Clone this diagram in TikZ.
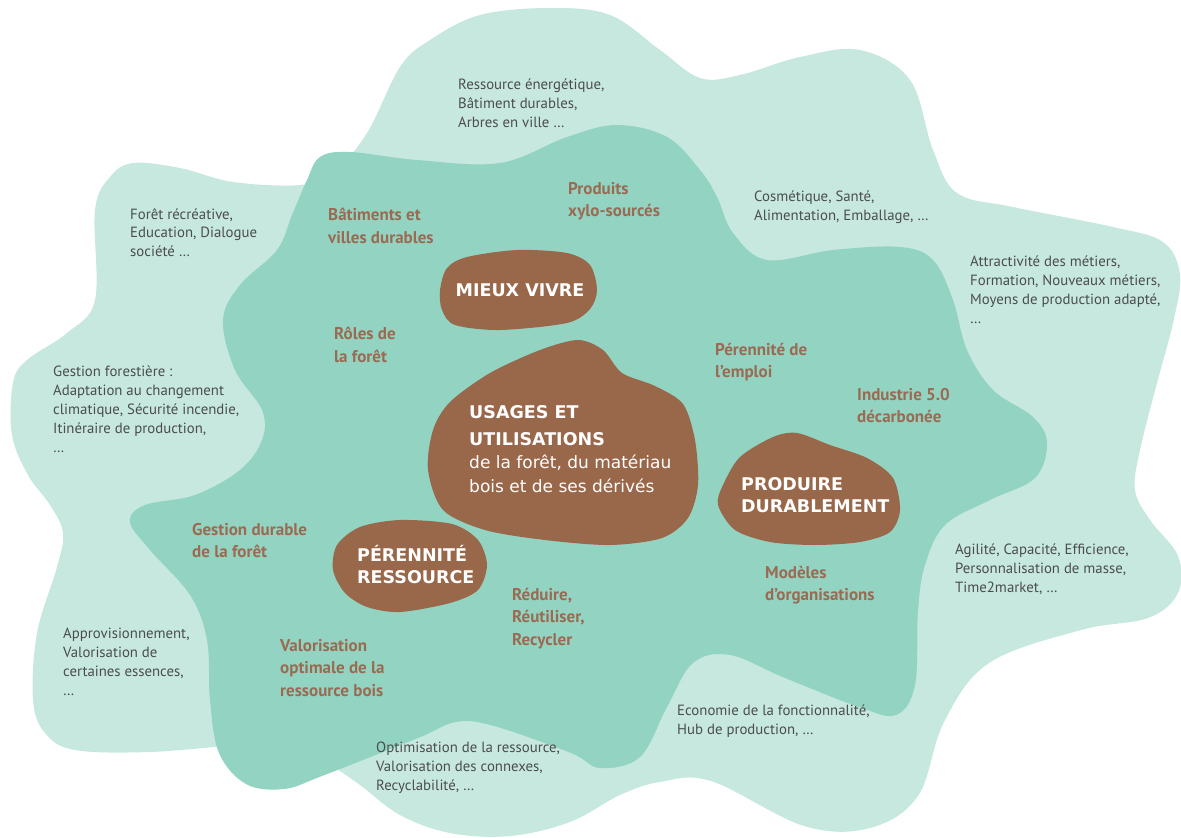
\documentclass[tikz,border=0pt]{standalone}
\usepackage{fontspec}
\setmainfont{PT Sans}
\newfontfamily\blobfont{DejaVu Sans}
\definecolor{paleleaf}{HTML}{C7E8DE}
\definecolor{midleaf}{HTML}{93D3C2}
\definecolor{bark}{HTML}{99684B}
\definecolor{barktext}{HTML}{9A6B52}
\definecolor{inkgray}{HTML}{4B4D4D}
\begin{document}
\begin{tikzpicture}
  [x=1pt, y=-1pt,
    idea/.style={
      font=\fontsize{14.8}{18.8}\selectfont,
      text=inkgray, align=left,
      anchor=north west, inner sep=0pt
    },
    theme/.style={
      font=\fontsize{17}{22.5}\selectfont\bfseries,
      text=barktext, align=left,
      anchor=north west, inner sep=0pt
    },
    pole/.style={
      font=\blobfont\bfseries\fontsize{17.5}{22}\selectfont,
      text=white, align=left, inner sep=0pt
    },
    polesub/.style={
      font=\blobfont\fontsize{17}{24}\selectfont,
      text=white, align=left,
      anchor=north west, inner sep=0pt
    }
  ]
  \useasboundingbox (0,0) rectangle (1181,838);
  % outer zone
  \fill[paleleaf] plot[smooth cycle, tension=0.6] coordinates {
    (430,40) (480,15) (550,8) (610,15) (660,50) (700,78) (740,75)
    (800,57) (860,50) (910,80) (933,150) (957,193) (1013,207)
    (1113,227) (1163,242) (1180,275) (1173,323) (1157,383) (1140,450)
    (1135,490) (1150,520) (1178,556) (1178,593) (1148,618) (1081,630)
    (989,663) (944,722) (918,796) (870,828) (804,826) (711,781)
    (660,782) (620,795) (570,822) (510,836) (450,833) (400,815)
    (360,785) (330,765) (300,752) (250,745) (150,752) (75,750)
    (45,733) (33,700) (37,633) (57,567) (63,533) (50,505) (28,475)
    (12,435) (13,383) (27,360) (67,333) (95,300) (95,210) (110,177)
    (133,163) (180,168) (233,182) (300,185) (333,173) (367,133)
    (400,67)};
  % inner zone
  \fill[midleaf] plot[smooth cycle, tension=0.6] coordinates {
    (320,157) (350,152) (417,160) (500,163) (567,137) (617,125)
    (667,137) (700,170) (717,197) (733,233) (767,260) (833,250)
    (900,247) (933,260) (953,300) (967,350) (993,390) (1033,417)
    (1047,443) (1035,478) (990,500) (945,525) (925,565) (918,611)
    (915,685) (896,715) (859,707) (785,678) (730,655) (693,663)
    (667,707) (640,757) (600,768) (571,753) (494,726) (456,722)
    (418,738) (322,776) (284,789) (246,784) (219,753) (210,700)
    (207,640) (190,595) (150,550) (130,522) (145,505) (195,495)
    (240,470) (262,440) (262,410) (235,370) (223,320) (240,285)
    (277,250) (292,215) (307,180)};
  % brown poles
  \fill[bark] plot[smooth cycle] coordinates {
    (440,290) (447,268) (467,257) (517,250) (567,253) (590,265)
    (597,290) (590,309) (567,323) (500,330) (455,325) (442,310)};
  \fill[bark] plot[smooth cycle] coordinates {
    (450,402) (490,373) (540,350) (578,340) (603,350) (622,373)
    (655,386) (683,404) (695,440) (698,485) (688,518) (662,538)
    (610,545) (545,540) (485,530) (443,510) (428,470) (433,430)};
  \fill[bark] plot[smooth cycle] coordinates {
    (333,570) (337,545) (360,527) (400,520) (452,524) (478,540)
    (487,565) (478,590) (450,603) (400,612) (367,607) (345,593)};
  \fill[bark] plot[smooth cycle] coordinates {
    (718,505) (723,485) (740,457) (773,437) (797,433) (830,445)
    (867,458) (893,478) (900,510) (890,532) (860,542) (815,545)
    (770,542) (735,530)};

  \node[pole] (mieux) at (520,290) {MIEUX VIVRE};
  \node[pole, anchor=north west, font=\blobfont\bfseries\fontsize{17.5}{27}\selectfont]
    (usages) at (469,405) {USAGES ET\\UTILISATIONS};
  \node[polesub] (usagessub) at (469,455) {de la forêt, du matériau\\bois et de ses dérivés};
  \node[pole, anchor=north west] (perennite) at (357,545) {PÉRENNITÉ\\RESSOURCE};
  \node[pole, anchor=north west] (produire) at (741,477) {PRODUIRE\\DURABLEMENT};

  \node[theme] (batiments) at (328,208) {Bâtiments et\\villes durables};
  \node[theme] (produits) at (568,182) {Produits\\xylo-sourcés};
  \node[theme] (roles) at (334,327) {Rôles de\\la forêt};
  \node[theme] (emploi) at (715,343) {Pérennité de\\l’emploi};
  \node[theme] (industrie) at (857,388) {Industrie 5.0\\décarbonée};
  \node[theme] (gestion) at (192,523) {Gestion durable\\de la forêt};
  \node[theme] (modeles) at (765,566) {Modèles\\d’organisations};
  \node[theme] (reduire) at (512,588) {Réduire,\\Réutiliser,\\Recycler};
  \node[theme] (valorisation) at (280,639) {Valorisation\\optimale de la\\ressource bois};

  \node[idea] (energie) at (458,79) {Ressource énergétique,\\Bâtiment durables,\\Arbres en ville …};
  \node[idea] (cosmetique) at (754,191) {Cosmétique, Santé,\\Alimentation, Emballage, …};
  \node[idea] (recreative) at (130,208) {Forêt récréative,\\Education, Dialogue\\société …};
  \node[idea] (metiers) at (970,256) {Attractivité des métiers,\\Formation, Nouveaux métiers,\\Moyens de production adapté,\\…};
  \node[idea] (forestiere) at (53,366) {Gestion forestière :\\Adaptation au changement\\climatique, Sécurité incendie,\\Itinéraire de production,\\…};
  \node[idea] (agilite) at (955,544) {Agilité, Capacité, Efficience,\\Personnalisation de masse,\\Time2market, …};
  \node[idea] (appro) at (63,628) {Approvisionnement,\\Valorisation de\\certaines essences,\\…};
  \node[idea] (economie) at (677,705) {Economie de la fonctionnalité,\\Hub de production, …};
  \node[idea] (optimisation) at (376,742) {Optimisation de la ressource,\\Valorisation des connexes,\\Recyclabilité, …};
\end{tikzpicture}
\end{document}
